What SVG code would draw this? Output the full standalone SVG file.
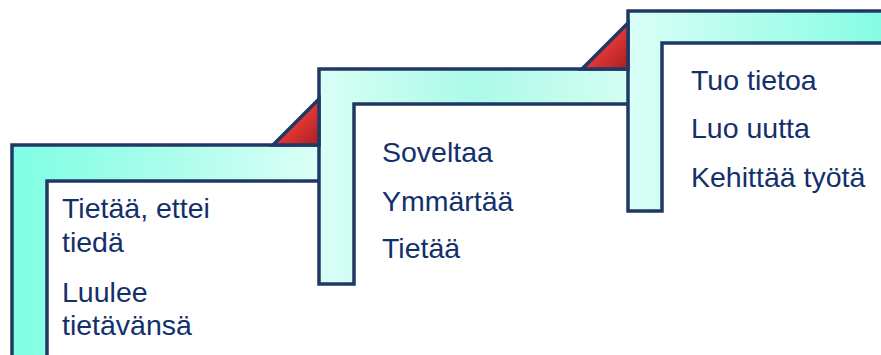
<svg xmlns="http://www.w3.org/2000/svg" width="881" height="355" viewBox="0 0 881 355">
  <style>
    .step { stroke: #203864; stroke-width: 3.5; stroke-linejoin: miter; }
    .tri { fill: url(#red); stroke: #203864; stroke-width: 3.5; stroke-linejoin: miter; }
    .lbl { font-family: "Liberation Sans", "Open Sans", sans-serif; font-size: 28.5px; fill: #13306B; }
  </style>
  <defs>
    <linearGradient id="g1" gradientUnits="userSpaceOnUse" x1="12" y1="0" x2="320" y2="0">
      <stop offset="0" stop-color="#80FFE4"/>
      <stop offset="0.35" stop-color="#9CFDE8"/>
      <stop offset="1" stop-color="#DCFFF7"/>
    </linearGradient>
    <linearGradient id="g2" gradientUnits="userSpaceOnUse" x1="319" y1="0" x2="628" y2="0">
      <stop offset="0" stop-color="#DAFFF6"/>
      <stop offset="0.5" stop-color="#ABFAE7"/>
      <stop offset="1" stop-color="#D4FEF3"/>
    </linearGradient>
    <linearGradient id="g3" gradientUnits="userSpaceOnUse" x1="628" y1="0" x2="881" y2="0">
      <stop offset="0" stop-color="#DAFFF6"/>
      <stop offset="1" stop-color="#86FCE3"/>
    </linearGradient>
    <linearGradient id="red" x1="0" y1="0" x2="1" y2="1">
      <stop offset="0" stop-color="#F04545"/>
      <stop offset="0.55" stop-color="#DE3434"/>
      <stop offset="1" stop-color="#A8201F"/>
    </linearGradient>
  </defs>

  <g id="step1">
    <polygon class="step" fill="url(#g1)" points="12,145 330,145 330,181 47,181 47,360 12,360"/>
    <text class="lbl" x="62" y="218">Tietää, ettei<tspan x="62" dy="34">tiedä</tspan></text>
    <text class="lbl" x="62" y="302">Luulee<tspan x="62" dy="33">tietävänsä</tspan></text>
  </g>

  <g id="step2">
    <polygon class="step" fill="url(#g2)" points="319,69 640,69 640,104 354,104 354,284 319,284"/>
    <text class="lbl" x="382" y="162">Soveltaa</text>
    <text class="lbl" x="382" y="211">Ymmärtää</text>
    <text class="lbl" x="382" y="258">Tietää</text>
  </g>

  <g id="step3">
    <polygon class="step" fill="url(#g3)" points="628,11 890,11 890,43 662,43 662,211 628,211"/>
    <text class="lbl" x="691" y="90">Tuo tietoa</text>
    <text class="lbl" x="691" y="138">Luo uutta</text>
    <text class="lbl" x="691" y="187">Kehittää työtä</text>
  </g>

  <g id="connectors">
    <polygon class="tri" points="273,145 319,99 319,145"/>
    <polygon class="tri" points="582,69 628,23 628,69"/>
  </g>
</svg>
